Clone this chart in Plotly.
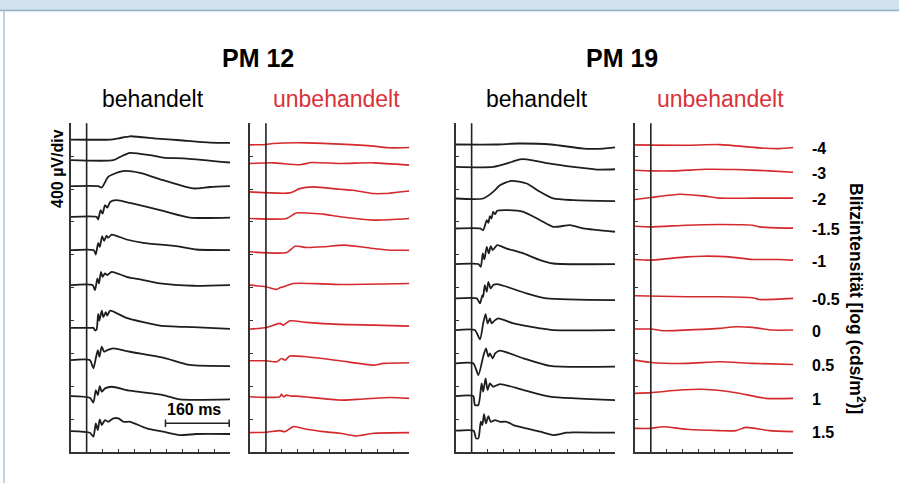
import plotly.graph_objects as go

# ---------------- data (time in ms after flash, amplitude in µV) ----------------
INTENSITIES = ["-4", "-3", "-2", "-1.5", "-1", "-0.5", "0", "0.5", "1", "1.5"]

# baseline offset of each trace on the stacked amplitude axis (µV)
PM12_TREATED_BASE = [3802, 3551, 3235, 2861, 2456, 2031, 1511, 1119, 681, 255]
PM12_UNTREATED_BASE = [3742, 3511, 3165, 2842, 2436, 2019, 1504, 1110, 672, 240]
PM19_TREATED_BASE = [3742, 3469, 3085, 2720, 2286, 1869, 1484, 1079, 681, 259]
PM19_UNTREATED_BASE = [3737, 3421, 3097, 2748, 2343, 1901, 1496, 1110, 714, 288]

# each trace: list of (ms, µV relative to baseline)
PM12_TREATED = [
    [(-40, 0), (60, 0), (80, 15), (109, 40), (176, 12), (234, -8), (310, -36), (360, -40)],
    [(-40, 0), (67, 0), (84, 40), (109, 89), (159, 61), (192, 32), (251, 20), (360, -28)],
    [(-40, 0), (29, 0), (38, -16), (54, 113), (71, 154), (96, 186), (134, 162), (192, 73),
     (234, 12), (268, -28), (310, -10), (360, 0)],
    [(-40, 0), (25, 0), (29, -32), (35, 81), (40, 40), (46, 142), (52, 113), (59, 182),
     (75, 203), (109, 170), (192, 73), (259, -8), (360, -8)],
    [(-40, 0), (18, 0), (23, -53), (29, 89), (33, 40), (39, 170), (44, 113), (50, 178),
     (54, 150), (63, 190), (100, 130), (142, 89), (226, 49), (276, 8), (360, 0)],
    [(-40, 0), (15, 0), (21, -61), (27, 81), (31, 20), (36, 162), (40, 101), (46, 142),
     (52, 121), (63, 162), (100, 101), (142, 61), (184, 20), (268, -8), (360, 0)],
    [(-40, 0), (12, 0), (17, 0), (21, -32), (25, -20), (29, 170), (32, 89), (38, 210),
     (42, 130), (48, 190), (52, 150), (59, 210), (100, 121), (142, 69), (184, 28),
     (268, 8), (360, -12)],
    [(-40, 0), (8, 0), (17, -101), (23, 20), (28, 121), (32, 40), (38, 162), (44, 101),
     (52, 121), (67, 142), (109, 101), (192, 30), (259, -60), (360, -73)],
    [(-40, 0), (8, -20), (17, -81), (23, 73), (28, 12), (33, 121), (38, 53), (46, 93),
     (63, 113), (109, 65), (192, 12), (234, -40), (360, -40)],
    [(-40, 0), (8, -20), (17, -69), (23, 93), (28, 12), (33, 142), (38, 73), (46, 134),
     (54, 113), (67, 154), (80, 154), (92, 113), (109, 113), (151, 32), (192, -8),
     (234, -49), (276, -36), (360, -36)],
]

PM12_UNTREATED = [
    [(-40, -4), (0, 0), (18, 12), (102, 20), (186, 4), (270, -20), (311, -40), (360, -36)],
    [(-40, 0), (18, 8), (85, -16), (115, 12), (186, 0), (270, 8), (360, -20)],
    [(-40, 0), (60, -12), (85, 40), (119, 61), (186, 32), (219, 20), (270, -20), (295, -20), (360, 12)],
    [(-40, 0), (52, 0), (73, 61), (81, 69), (144, 53), (186, 20), (270, -20), (360, 0)],
    [(-40, 0), (52, -8), (73, 69), (102, 53), (144, 61), (198, 81), (270, 40), (311, 20), (360, 20)],
    [(-40, 12), (0, -8), (27, -40), (35, -20), (44, -8), (69, 32), (186, 20), (360, 32)],
    [(-40, -8), (2, 12), (35, 61), (44, 40), (60, 93), (102, 73), (186, 49), (270, 40), (360, 28)],
    [(-40, 0), (0, 0), (27, -12), (39, 28), (48, 8), (60, 57), (102, 49), (186, 0), (270, -53),
     (295, -32), (360, -24)],
    [(-40, 0), (35, 0), (39, 32), (44, 0), (52, 20), (64, 8), (77, 8), (186, -40), (228, -32),
     (311, -8), (360, -20)],
    [(-40, -4), (0, 0), (35, 20), (48, 8), (69, 69), (102, 36), (144, 8), (186, -12), (228, -45),
     (270, -12), (360, -4)],
]

PM19_TREATED = [
    [(-40, 0), (60, 0), (117, 12), (200, 0), (280, -49), (331, -49), (360, -36)],
    [(-40, 0), (54, 0), (100, 60), (121, 93), (138, 93), (197, 40), (255, 0), (314, -32), (360, -28)],
    [(-40, 0), (29, 0), (54, 81), (71, 162), (100, 215), (138, 182), (172, 81), (205, 0),
     (255, -20), (360, -32)],
    [(-40, 0), (21, 0), (29, -20), (38, 101), (42, 69), (46, 150), (50, 121), (54, 202),
     (59, 174), (64, 215), (92, 223), (130, 202), (172, 101), (205, 20), (247, 40), (280, 0),
     (360, -40)],
    [(-40, 0), (17, 0), (23, -32), (28, 130), (32, 57), (38, 210), (43, 130), (48, 219),
     (53, 170), (64, 231), (88, 190), (130, 130), (172, 49), (205, 8), (360, 0)],
    [(-40, 0), (13, 0), (21, -61), (27, 40), (29, 20), (33, 162), (38, 81), (42, 202),
     (48, 121), (54, 162), (64, 174), (88, 142), (138, 61), (188, 0), (360, -20)],
    [(-40, 0), (8, 0), (21, -113), (29, 81), (35, 194), (40, 81), (46, 142), (50, 81),
     (59, 121), (67, 142), (105, 81), (172, 20), (205, 0), (360, 0)],
    [(-40, 0), (4, 0), (17, -142), (29, 81), (36, 182), (42, 81), (46, 121), (53, 61),
     (59, 121), (71, 154), (130, 61), (197, -32), (360, -40)],
    [(-40, 0), (4, 0), (8, -109), (17, -109), (25, 154), (29, 53), (35, 215), (40, 73),
     (46, 154), (54, 113), (71, 146), (130, 73), (197, -8), (360, -49)],
    [(-40, 0), (5, 0), (11, -93), (17, -93), (23, 109), (27, 69), (31, 202), (36, 89),
     (42, 178), (48, 109), (59, 130), (71, 109), (88, 109), (105, 69), (138, 28), (172, -12),
     (205, -53), (238, -24), (255, -20), (360, -24)],
]

PM19_UNTREATED = [
    [(-40, 0), (90, -4), (173, 4), (274, -36), (324, -45), (360, -32)],
    [(-40, 8), (0, 0), (60, 0), (140, 20), (215, 16), (299, 0), (360, -16)],
    [(-40, -24), (0, 0), (73, 40), (131, 20), (173, -8), (257, -8), (360, -8)],
    [(-40, 0), (0, -8), (90, 12), (173, 20), (257, 12), (274, -8), (360, -24)],
    [(-40, 0), (0, -8), (90, 32), (131, 40), (198, 32), (257, 0), (324, 0), (360, -8)],
    [(-40, 0), (90, -12), (173, -12), (257, -24), (274, -45), (360, -32)],
    [(-40, 0), (0, 0), (31, -20), (131, -4), (173, 8), (215, 28), (257, 20), (307, -12), (360, -12)],
    [(-40, 8), (0, -20), (90, -32), (173, -12), (257, -32), (360, -45)],
    [(-40, 0), (0, 8), (73, 40), (131, 49), (215, 8), (290, -61), (360, -61)],
    [(-40, 0), (0, 0), (31, 20), (90, -12), (173, -28), (215, -28), (240, 12), (299, -28), (360, -40)],
]

SCALE_BAR_MS = 160
SCALE_LABEL = "160 ms"
AMP_LABEL = "400 µV/div"
DIV_UV = 400
T_RANGE = [-40, 360]
AMP_RANGE = [0, 4000]

# ---------------- figure ----------------
W, H = 899, 483
BLACK = "#1e1e1e"
RED = "#d42a2d"
FONT = "Liberation Sans, Arial, sans-serif"

def px(x):
    return x / W

def py(y):
    return 1 - y / H

panels = [
    (PM12_TREATED, PM12_TREATED_BASE, BLACK, 1.8, (70.7, 230.0)),
    (PM12_UNTREATED, PM12_UNTREATED_BASE, RED, 1.6, (250.0, 409.3)),
    (PM19_TREATED, PM19_TREATED_BASE, BLACK, 1.8, (455.7, 615.0)),
    (PM19_UNTREATED, PM19_UNTREATED_BASE, RED, 1.6, (635.0, 793.3)),
]
Y_TOP, Y_BOT = 123.3, 452.0

fig = go.Figure()
layout = dict(
    width=W, height=H, margin=dict(l=0, r=0, t=0, b=0),
    paper_bgcolor="white", plot_bgcolor="white", showlegend=False,
    font=dict(family=FONT, color="black"),
)
shapes = []
annotations = []

for i, (traces, bases, color, lw, (xl, xr)) in enumerate(panels, start=1):
    xa = "x" if i == 1 else f"x{i}"
    ya = "y" if i == 1 else f"y{i}"
    axis_common = dict(
        showline=True, linecolor="#333333", linewidth=1.6, ticks="inside", ticklen=3,
        tickwidth=1, tickcolor="#333333", showticklabels=False, showgrid=False,
        zeroline=False, fixedrange=True,
    )
    layout["xaxis" if i == 1 else f"xaxis{i}"] = dict(
        domain=[px(xl), px(xr)], range=T_RANGE, tick0=0, dtick=40,
        anchor=ya, **axis_common)
    layout["yaxis" if i == 1 else f"yaxis{i}"] = dict(
        domain=[py(Y_BOT), py(Y_TOP)], range=AMP_RANGE, tick0=0, dtick=DIV_UV,
        anchor=xa, **axis_common)
    for tr, b in zip(traces, bases):
        fig.add_trace(go.Scatter(
            x=[p[0] for p in tr], y=[b + p[1] for p in tr], mode="lines",
            line=dict(color=color, width=lw, shape="spline", smoothing=0.6),
            xaxis=xa, yaxis=ya, hoverinfo="skip"))
    # flash (stimulus) marker line
    shapes.append(dict(type="line", xref=xa, yref=f"{ya} domain", x0=0, x1=0, y0=0, y1=1,
                       line=dict(color="#222222", width=1.6)))

# scale bar on first panel
bar_end = T_RANGE[1] - 2
bar_start = bar_end - SCALE_BAR_MS
bar_y = 349
fig.add_trace(go.Scatter(x=[bar_start, bar_end], y=[bar_y, bar_y], mode="lines",
                         line=dict(color="#222222", width=1.5), xaxis="x", yaxis="y",
                         hoverinfo="skip"))
for xb in (bar_start, bar_end):
    fig.add_trace(go.Scatter(x=[xb, xb], y=[bar_y - 45, bar_y + 45], mode="lines",
                             line=dict(color="#222222", width=1.5), xaxis="x", yaxis="y",
                             hoverinfo="skip"))
annotations.append(dict(text=f"<b>{SCALE_LABEL}</b>", xref="x", yref="y",
                        x=(bar_start + bar_end) / 2 - 8, y=bar_y + 40, yanchor="bottom",
                        showarrow=False, font=dict(size=16, family=FONT)))

# header frame
shapes += [
    dict(type="rect", xref="paper", yref="paper", x0=0, x1=1, y0=py(10), y1=1,
         fillcolor="#d0e2ee", line=dict(width=0), layer="below"),
    dict(type="line", xref="paper", yref="paper", x0=0, x1=1, y0=py(10.5), y1=py(10.5),
         line=dict(color="#90b0c8", width=1.5)),
    dict(type="line", xref="paper", yref="paper", x0=px(4), x1=px(4), y0=0, y1=py(11),
         line=dict(color="#a9c3d9", width=1.5)),
]

def text(t, x, y, size, color="black", bold=False, angle=0, xanchor="center"):
    s = f"<b>{t}</b>" if bold else t
    annotations.append(dict(text=s, xref="paper", yref="paper", x=px(x), y=py(y),
                            showarrow=False, textangle=angle, xanchor=xanchor,
                            yanchor="middle", font=dict(size=size, color=color, family=FONT)))

text("PM 12", 258, 58, 25, bold=True)
text("PM 19", 622, 58, 25, bold=True)
text("behandelt", 153, 99, 23)
text("unbehandelt", 336.7, 99, 23, color="#d9323a")
text("behandelt", 537, 99, 23)
text("unbehandelt", 720, 99, 23, color="#d9323a")
text(AMP_LABEL, 57, 169, 16, bold=True, angle=-90)
text("Blitzintensität [log (cds/m<sup>2</sup>)]", 857, 298, 17.5, bold=True, angle=90)

# intensity labels aligned with the ends of the last panel's traces
for lab, tr, b in zip(INTENSITIES, PM19_UNTREATED, PM19_UNTREATED_BASE):
    annotations.append(dict(text=f"<b>{lab}</b>", xref="paper", yref="y4", x=px(810),
                            y=b + tr[-1][1], xanchor="left", yanchor="middle", yshift=-1,
                            showarrow=False, font=dict(size=16, family=FONT)))

layout["shapes"] = shapes
layout["annotations"] = annotations
fig.update_layout(**layout)
fig.write_html("out.html", config={"displayModeBar": False},
               post_script="document.body.style.margin='0';")
